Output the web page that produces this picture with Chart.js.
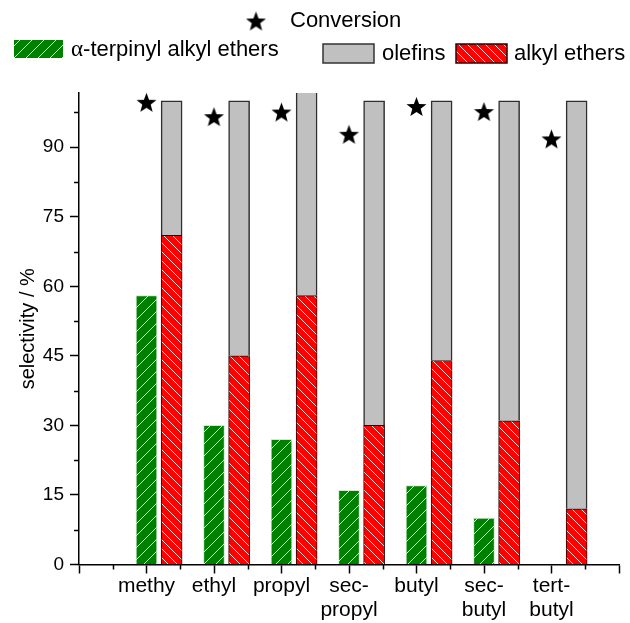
<!DOCTYPE html>
<html>
<head>
<meta charset="utf-8">
<script src="https://cdn.jsdelivr.net/npm/chart.js@4/dist/chart.umd.min.js"></script>
<style>
  html, body { margin: 0; padding: 0; background: #fff; }
  #wrap { width: 630px; height: 623px; }
</style>
</head>
<body>
<div id="wrap"><canvas id="myChart" width="630" height="623"></canvas></div>
<script>
// ---- data ----
const categories = ["methy", "ethyl", "propyl", ["sec-", "propyl"], "butyl", ["sec-", "butyl"], ["tert-", "butyl"]];
const terpinylEthers = [58, 30, 27, 16, 17, 10, null];
const alkylEthers = [71, 45, 58, 30, 44, 31, 12];
const olefins = [29, 55, 44, 70, 56, 69, 88];
const conversion = [99.7, 96.6, 97.6, 92.8, 98.8, 97.7, 91.8];
const seriesNames = ["α-terpinyl alkyl ethers", "olefins", "alkyl ethers", "Conversion"];

const FONT = 'Arial, "Liberation Sans", sans-serif';
const RED_SHIFT = 0.372; // red/grey column sits right of the category centre

const ctx = document.getElementById("myChart");
const c2d = ctx.getContext("2d");

//------------------------------------------
function hatch(bg, size, slash) {
  const c = document.createElement("canvas");
  c.width = size;
  c.height = size;
  const g = c.getContext("2d");
  g.fillStyle = bg;
  g.fillRect(0, 0, size, size);
  g.strokeStyle = "rgba(255,255,255,0.85)";
  g.lineWidth = 1;
  g.beginPath();
  if (slash) {
    g.moveTo(-1, size + 1); g.lineTo(size + 1, -1);
    g.moveTo(-1, 1); g.lineTo(1, -1);
    g.moveTo(size - 1, size + 1); g.lineTo(size + 1, size - 1);
  } else {
    g.moveTo(-1, -1); g.lineTo(size + 1, size + 1);
    g.moveTo(size - 1, -1); g.lineTo(size + 1, 1);
    g.moveTo(-1, size - 1); g.lineTo(1, size + 1);
  }
  g.stroke();
  return c2d.createPattern(c, "repeat");
}

function makeStar(r) {
  const c = document.createElement("canvas");
  const s = Math.ceil(r * 2 + 2);
  c.width = s;
  c.height = s;
  const g = c.getContext("2d");
  const cx = s / 2, cy = s / 2 + 0.095 * r;
  g.beginPath();
  for (let k = 0; k < 10; k++) {
    const rad = k % 2 === 0 ? r : r * 0.42;
    const a = -Math.PI / 2 + (k * Math.PI) / 5;
    g.lineTo(cx + rad * Math.cos(a), cy + rad * Math.sin(a));
  }
  g.closePath();
  g.fillStyle = "#000";
  g.fill();
  return c;
}

const greenFill = hatch("#008000", 12, true);
const redFill = hatch("#ff0000", 9, false);
const starImg = makeStar(10.5);

//------------------------------------------
const minorTicks = {
  id: "minorTicks",
  afterDraw(chart) {
    const { ctx: g, chartArea: a, scales } = chart;
    g.save();
    g.strokeStyle = "#000";
    g.lineWidth = 1.5;
    g.beginPath();
    for (let v = 7.5; v < scales.y.max; v += 15) {
      const p = Math.round(scales.y.getPixelForValue(v)) + 0.5;
      g.moveTo(a.left - 5, p);
      g.lineTo(a.left, p);
    }
    for (let v = -0.5; v < scales.x.max; v += 1) {
      const p = Math.round(scales.x.getPixelForValue(v)) + 0.5;
      g.moveTo(p, a.bottom);
      g.lineTo(p, a.bottom + 5);
    }
    g.stroke();
    g.restore();
  },
};

const headLegend = {
  id: "headLegend",
  afterDraw(chart) {
    const g = chart.ctx;
    g.save();
    g.fillStyle = "#000";
    g.textBaseline = "middle";
    g.font = "22px " + FONT;
    // conversion
    g.drawImage(starImg, 256 - starImg.width / 2, 21 - starImg.height / 2);
    g.fillText(seriesNames[3], 290, 21);
    // alpha-terpinyl
    g.fillStyle = greenFill;
    g.fillRect(14, 40, 49, 18);
    g.fillStyle = "#000";
    g.font = "23px \"Liberation Serif\", serif";
    g.fillText(seriesNames[0].charAt(0), 71, 50);
    const aw = g.measureText(seriesNames[0].charAt(0)).width;
    g.font = "22px " + FONT;
    g.fillText(seriesNames[0].slice(1), 71 + aw, 50);
    // olefins
    g.fillStyle = "#c0c0c0";
    g.fillRect(323, 44, 51, 19);
    g.strokeStyle = "#333";
    g.lineWidth = 1.5;
    g.strokeRect(323, 44, 51, 19);
    g.fillStyle = "#000";
    g.fillText(seriesNames[1], 382, 54);
    // alkyl ethers
    g.fillStyle = redFill;
    g.fillRect(456, 44, 51, 19);
    g.strokeStyle = "#300";
    g.strokeRect(456, 44, 51, 19);
    g.fillStyle = "#000";
    g.fillText(seriesNames[2], 514, 54);
    g.restore();
  },
};

//------------------------------------------
const pts = (arr) => arr.map((v, i) => ({ x: i, y: v }));

const axisGrid = {
  drawOnChartArea: false,
  offset: false,
  tickLength: 9,
  tickColor: "#000",
  tickWidth: 1.5,
};

const barBase = {
  type: "bar",
  grouped: false,
  barThickness: 21,
  maxBarThickness: 21,
};

myChart = new Chart(ctx, {
  type: "bar",
  data: {
    datasets: [
      {
        ...barBase,
        label: seriesNames[0],
        data: pts(terpinylEthers),
        xAxisID: "x",
        stack: "a",
        backgroundColor: greenFill,
        borderColor: "#cfe9cf",
        borderWidth: 1,
      },
      {
        ...barBase,
        label: seriesNames[2],
        data: pts(alkylEthers),
        xAxisID: "x2",
        stack: "b",
        backgroundColor: redFill,
        borderColor: "#2a0000",
        borderWidth: 1,
      },
      {
        ...barBase,
        label: seriesNames[1],
        data: pts(olefins),
        xAxisID: "x2",
        stack: "b",
        backgroundColor: "#c0c0c0",
        borderColor: "#2e2e2e",
        borderWidth: 1.5,
        clip: 0,
      },
      {
        type: "scatter",
        label: seriesNames[3],
        data: pts(conversion),
        xAxisID: "x",
        stack: "c",
        pointStyle: starImg,
        pointRadius: 10,
        clip: false,
      },
    ],
  },
  options: {
    responsive: false,
    animation: false,
    devicePixelRatio: 1,
    layout: { padding: { top: 93, right: 3, left: 0, bottom: 0 } },
    plugins: { legend: { display: false }, tooltip: { enabled: false } },
    scales: {
      x: {
        type: "linear",
        position: "bottom",
        offset: false,
        min: -1,
        max: 7,
        grid: axisGrid,
        border: { color: "#000", width: 1.5 },
        ticks: {
          stepSize: 1,
          autoSkip: false,
          maxRotation: 0,
          padding: 1,
          color: "#000",
          font: { family: FONT, size: 21, lineHeight: 1.12 },
          callback: (v) => categories[v] || "",
        },
        afterFit: (s) => { s.height = 58.5; },
      },
      x2: {
        type: "linear",
        display: false,
        offset: false,
        min: -1 - RED_SHIFT,
        max: 7 - RED_SHIFT,
      },
      y: {
        stacked: true,
        min: 0,
        max: 101.7,
        grid: axisGrid,
        border: { color: "#000", width: 1.5 },
        ticks: {
          stepSize: 15,
          includeBounds: false,
          padding: 6,
          color: "#000",
          font: { family: FONT, size: 19 },
        },
        title: {
          display: true,
          text: "selectivity / %",
          color: "#000",
          font: { family: FONT, size: 20 },
          padding: { top: 16, bottom: 0 },
        },
        afterFit: (s) => { s.width = 79; },
      },
    },
  },
  plugins: [minorTicks, headLegend],
});
</script>
</body>
</html>
